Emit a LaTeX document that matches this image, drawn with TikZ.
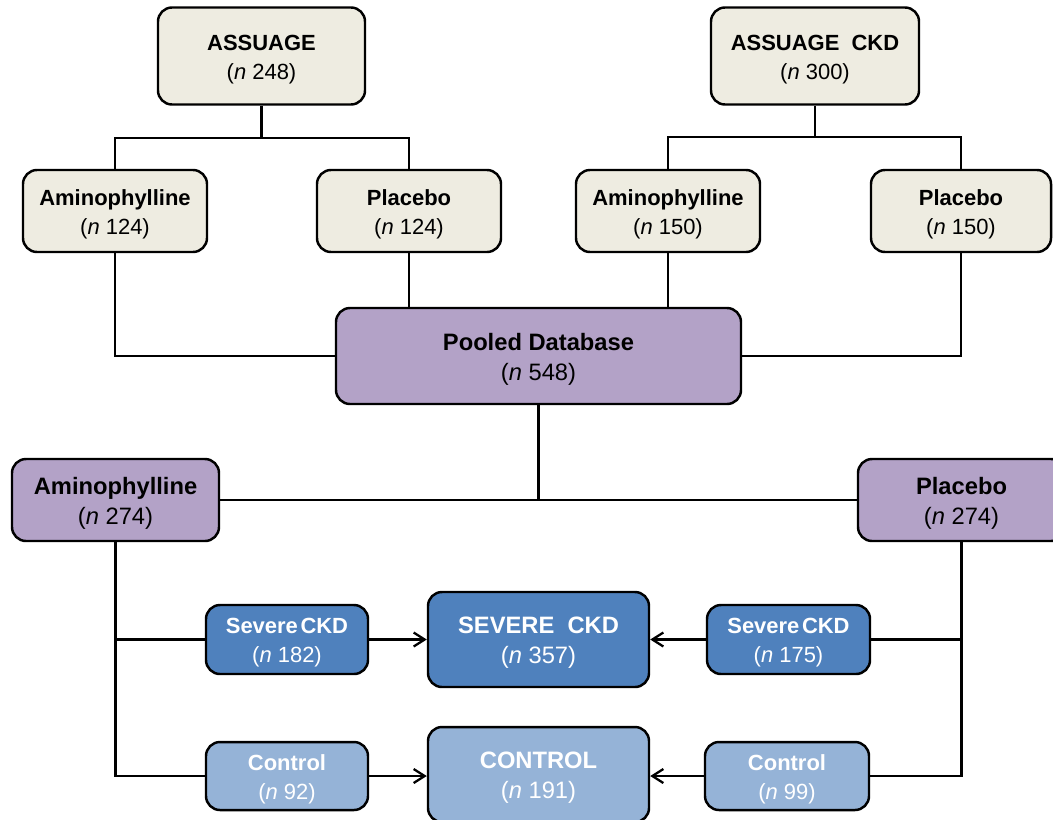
\documentclass[tikz,border=0pt]{standalone}
\usepackage{fontspec}
\setmainfont{Liberation Sans}
\usetikzlibrary{arrows.meta}

\definecolor{beige}{HTML}{EEECE1}
\definecolor{lilac}{HTML}{B3A2C7}
\definecolor{darkblue}{HTML}{4F81BD}
\definecolor{lightblue}{HTML}{95B3D7}

\newcommand{\boxtext}[2]{\rule{0pt}{1em}\textbf{#1}\\(\textit{n} #2)}

\tikzset{
  box/.style={draw=black, line width=1.4pt, rounded corners=0.28cm, align=center, inner sep=0pt},
  wd/.style={minimum width=#1*0.02cm},
  ht/.style={minimum height=#1*0.02cm},
  trial/.style={box, fill=beige, font=\fontsize{12.5}{16.5}\selectfont},
  pool/.style={box, fill=lilac, font=\fontsize{13.5}{17}\selectfont},
  subgrp/.style={box, fill=darkblue, text=white, font=\fontsize{12.5}{16.5}\selectfont},
  allgrp/.style={box, fill=darkblue, text=white, font=\fontsize{13.5}{17}\selectfont},
  link/.style={line width=1.3pt},
  feed/.style={line width=1.3pt, -{Straight Barb[length=2.2mm,width=2.8mm]}}
}

\begin{document}
\begin{tikzpicture}[x=0.02cm,y=-0.02cm]
\useasboundingbox (0,0) rectangle (1053,819);

% trials
\node[trial, wd=207, ht=97] (assuage) at (261.5,56) {\boxtext{ASSUAGE}{248}};
\node[trial, wd=208, ht=97] (assuageckd) at (815,56) {\boxtext{ASSUAGE\ \ CKD}{300}};
\node[trial, wd=184, ht=82] (aminoA) at (115,211) {\boxtext{Aminophylline}{124}};
\node[trial, wd=184, ht=82] (placeboA) at (409,211) {\boxtext{Placebo}{124}};
\node[trial, wd=184, ht=82] (aminoB) at (668,211) {\boxtext{Aminophylline}{150}};
\node[trial, wd=180, ht=82] (placeboB) at (961,211) {\boxtext{Placebo}{150}};

% pooled
\node[pool, wd=405, ht=96] (pooled) at (538.5,356) {\boxtext{Pooled Database}{548}};
\node[pool, wd=207, ht=82] (aminoP) at (115.5,500) {\boxtext{Aminophylline}{274}};
\node[pool, wd=207, ht=82] (placeboP) at (961.5,500) {\boxtext{Placebo}{274}};

% CKD groups
\node[subgrp, wd=162, ht=69] (sevL) at (287,639.5) {\boxtext{Severe\hspace{0.12em}CKD}{182}};
\node[allgrp, wd=221, ht=95] (sevAll) at (538.5,639.5) {\boxtext{SEVERE\ \ CKD}{357}};
\node[subgrp, wd=163, ht=69] (sevR) at (788.5,639.5) {\boxtext{Severe\hspace{0.12em}CKD}{175}};
\node[subgrp, fill=lightblue, wd=162, ht=68] (ctrlL) at (287,776) {\boxtext{Control}{92}};
\node[allgrp, fill=lightblue, wd=221, ht=95] (ctrlAll) at (538.5,774.5) {\boxtext{CONTROL}{191}};
\node[subgrp, fill=lightblue, wd=164, ht=68] (ctrlR) at (787,776) {\boxtext{Control}{99}};

\coordinate (splitA) at (261.5,138);
\coordinate (splitB) at (815,137);

% connectors
\draw[link] (assuage.south) -- (splitA);
\draw[link] (aminoA.north) |- (splitA) -| (placeboA.north);
\draw[link] (assuageckd.south) -- (splitB);
\draw[link] (aminoB.north) |- (splitB) -| (placeboB.north);
\draw[link] (aminoA.south) |- (pooled.west);
\draw[link] (placeboA.south) -- (placeboA.south |- pooled.north);
\draw[link] (aminoB.south) -- (aminoB.south |- pooled.north);
\draw[link] (placeboB.south) |- (pooled.east);
\draw[link] (pooled.south) -- (pooled.south |- aminoP.east);
\draw[link] (aminoP.east) -- (placeboP.west);
\draw[link] (aminoP.south) |- (ctrlL.west);
\draw[link] (aminoP.south |- sevL.west) -- (sevL.west);
\draw[link] (placeboP.south) |- (ctrlR.east);
\draw[link] (placeboP.south |- sevR.east) -- (sevR.east);
\draw[feed] (sevL.east) -- (sevAll.west);
\draw[feed] (ctrlL.east) -- (ctrlAll.west |- ctrlL.east);
\draw[feed] (sevR.west) -- (sevAll.east);
\draw[feed] (ctrlR.west) -- (ctrlAll.east |- ctrlR.west);
\end{tikzpicture}
\end{document}
